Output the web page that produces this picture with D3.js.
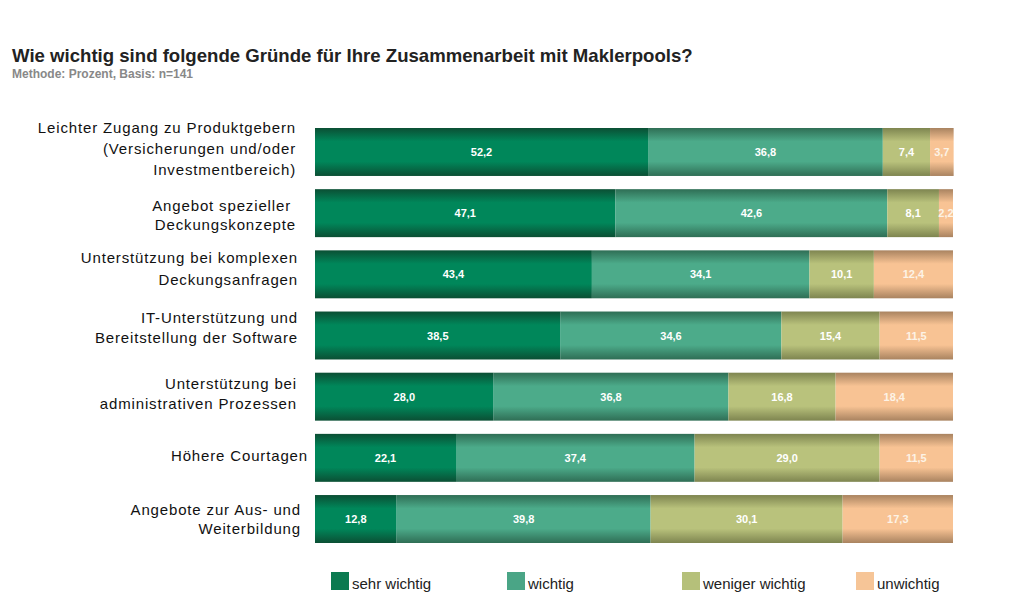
<!DOCTYPE html>
<html><head><meta charset="utf-8">
<script src="https://cdn.jsdelivr.net/npm/d3@7"></script>
<style>body{margin:0;background:#fff;}svg{display:block;}</style>
</head><body>
<script>
const title = "Wie wichtig sind folgende Gründe für Ihre Zusammenarbeit mit Maklerpools?";
const subtitle = "Methode: Prozent, Basis: n=141";
const categories = [
  ["Leichter Zugang zu Produktgebern", "(Versicherungen und/oder", "Investmentbereich)"],
  ["Angebot spezieller ", "Deckungskonzepte"],
  ["Unterstützung bei komplexen", "Deckungsanfragen"],
  ["IT-Unterstützung und", "Bereitstellung der Software"],
  ["Unterstützung bei", "administrativen Prozessen"],
  ["Höhere Courtagen"],
  ["Angebote zur Aus- und", "Weiterbildung"]
];
const seriesNames = ["sehr wichtig", "wichtig", "weniger wichtig", "unwichtig"];
const sehrWichtig = [52.2, 47.1, 43.4, 38.5, 28.0, 22.1, 12.8];
const wichtig = [36.8, 42.6, 34.1, 34.6, 36.8, 37.4, 39.8];
const wenigerWichtig = [7.4, 8.1, 10.1, 15.4, 16.8, 29.0, 30.1];
const unwichtig = [3.7, 2.2, 12.4, 11.5, 18.4, 11.5, 17.3];

const colors = [
  {mid:"#00875a", edge:"#0b4f34", legend:"#0b7a50"},
  {mid:"#4cab8a", edge:"#2f6e55", legend:"#4aa586"},
  {mid:"#b9c27c", edge:"#7e8550", legend:"#b5c07a"},
  {mid:"#f8c394", edge:"#a98360", legend:"#f6c597"}
];

const W = 1024, H = 608;
const svg = d3.select("body").append("svg").attr("width", W).attr("height", H);
const defs = svg.append("defs");
colors.forEach((c, i) => {
  const g = defs.append("linearGradient").attr("id", "g" + i)
    .attr("x1", 0).attr("y1", 0).attr("x2", 0).attr("y2", 1);
  g.append("stop").attr("offset", "0%").attr("stop-color", c.edge);
  g.append("stop").attr("offset", "28%").attr("stop-color", c.mid);
  g.append("stop").attr("offset", "70%").attr("stop-color", c.mid);
  g.append("stop").attr("offset", "100%").attr("stop-color", c.edge);
});

svg.append("text").attr("x", 12).attr("y", 62)
  .attr("font-family", "Liberation Sans, Arial, sans-serif").attr("font-weight", "bold")
  .attr("font-size", 18.6).attr("fill", "#222").text(title);
svg.append("text").attr("x", 12).attr("y", 78)
  .attr("font-family", "Liberation Sans, Arial, sans-serif").attr("font-weight", "bold")
  .attr("font-size", 12).attr("fill", "#888").text(subtitle);

const idx = d3.range(categories.length);
const x = d3.scaleLinear().domain([0, 100]).range([315, 953]);
const y = d3.scaleBand().domain(idx).range([128, 543]).paddingInner(0.216).paddingOuter(0);

const rows = idx.map(i => {
  const vals = [sehrWichtig[i], wichtig[i], wenigerWichtig[i], unwichtig[i]];
  let acc = 0;
  return vals.map((v, k) => { const s = {i, k, v, x0: acc, x1: acc + v}; acc += v; return s; });
});
const segs = rows.flat();

svg.append("g").selectAll("rect").data(segs).join("rect")
  .attr("x", d => x(d.x0)).attr("y", d => y(d.i))
  .attr("width", d => x(d.x1) - x(d.x0)).attr("height", y.bandwidth())
  .attr("fill", d => `url(#g${d.k})`);

svg.append("g").selectAll("text").data(segs).join("text")
  .attr("x", d => (x(d.x0) + x(d.x1)) / 2).attr("y", d => y(d.i) + y.bandwidth() / 2 + 4)
  .attr("text-anchor", "middle")
  .attr("font-family", "Liberation Sans Narrow, Arial Narrow, sans-serif").attr("font-weight", "bold")
  .attr("font-size", 11).attr("fill", d => d.k === 3 ? "#fdf3e6" : "#ffffff")
  .text(d => d3.format(".1f")(d.v).replace(".", ","));

// category labels
const labelRight = [296, 296, 298, 298, 297, 308, 301];
const labelFirst = [133, 211, 263, 323, 389, 461, 515];
const labelGap = [21, 19, 22, 20, 20, 0, 19];
const lg = svg.append("g").attr("font-family", "Liberation Sans, Arial, sans-serif")
  .attr("font-size", 15).attr("letter-spacing", 0.85).attr("fill", "#111").attr("text-anchor", "end");
idx.forEach(i => {
  const t = lg.append("text").attr("x", labelRight[i]).attr("y", labelFirst[i]);
  categories[i].forEach((line, j) => {
    t.append("tspan").attr("x", labelRight[i]).attr("y", labelFirst[i] + j * labelGap[i])
      .attr("xml:space", "preserve").text(line);
  });
});

// legend
const legendX = [331, 507, 682, 856];
const leg = svg.append("g");
seriesNames.forEach((n, k) => {
  leg.append("rect").attr("x", legendX[k]).attr("y", 572).attr("width", 18).attr("height", 18)
    .attr("fill", colors[k].legend);
  leg.append("text").attr("x", legendX[k] + 21).attr("y", 589)
    .attr("font-family", "Liberation Sans Narrow, Arial Narrow, sans-serif")
    .attr("font-size", 15).attr("fill", "#222").text(n);
});
</script>
</body></html>
